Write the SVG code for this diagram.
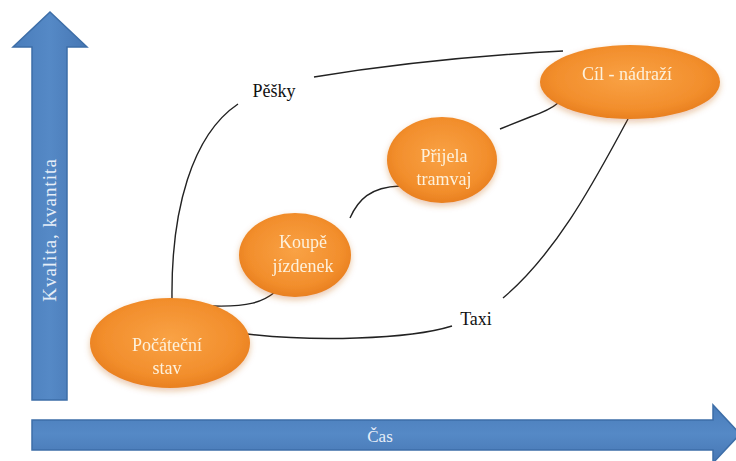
<svg xmlns="http://www.w3.org/2000/svg" width="736" height="461" viewBox="0 0 736 461">
  <defs>
    <linearGradient id="blueV" x1="0" y1="0" x2="1" y2="0">
      <stop offset="0" stop-color="#4a7dbb"/>
      <stop offset="0.5" stop-color="#5589c6"/>
      <stop offset="1" stop-color="#4676b3"/>
    </linearGradient>
    <linearGradient id="blueH" x1="0" y1="0" x2="0" y2="1">
      <stop offset="0" stop-color="#4a7dbb"/>
      <stop offset="0.5" stop-color="#5589c6"/>
      <stop offset="1" stop-color="#4676b3"/>
    </linearGradient>
    <radialGradient id="orange" cx="0.5" cy="0.45" r="0.6">
      <stop offset="0" stop-color="#f9a245"/>
      <stop offset="0.7" stop-color="#f28e2c"/>
      <stop offset="1" stop-color="#e57a1b"/>
    </radialGradient>
    <filter id="soft" x="-20%" y="-20%" width="140%" height="150%">
      <feGaussianBlur in="SourceAlpha" stdDeviation="3"/>
      <feOffset dy="3" result="b"/>
      <feFlood flood-color="#c0601a" flood-opacity="0.35"/>
      <feComposite in2="b" operator="in" result="sh"/>
      <feMerge>
        <feMergeNode in="sh"/>
        <feMergeNode in="SourceGraphic"/>
      </feMerge>
    </filter>
  </defs>
  <style>
    .axis { stroke: #3d6ea8; stroke-width: 1.5; }
    .axisText { font-family: "Liberation Serif", serif; font-size: 17px; fill: #e6eef8; }
    .vText { font-size: 19px; letter-spacing: 1px; }
    .node ellipse { fill: url(#orange); }
    .nodeText { font-family: "Liberation Serif", serif; font-size: 18px; fill: #fdf1dc; text-anchor: middle; }
    .conn path { fill: none; stroke: #222; stroke-width: 1.4; }
    .label { font-family: "Liberation Serif", serif; font-size: 18px; fill: #111; text-anchor: middle; }
  </style>
  <rect width="736" height="461" fill="#ffffff"/>

  <!-- vertical axis arrow -->
  <g id="axis-y">
    <path class="axis" fill="url(#blueV)" d="M32,400 L32,47 L13,47 L50,12 L87,47 L67,47 L67,400 Z"/>
    <text class="axisText vText" transform="translate(56,230) rotate(-90)" text-anchor="middle">Kvalita, kvantita</text>
  </g>

  <!-- horizontal axis arrow -->
  <g id="axis-x">
    <path class="axis" fill="url(#blueH)" d="M32,420 L713,420 L713,405 L740,434 L713,463 L713,450 L32,450 Z"/>
    <text class="axisText" x="380" y="442" text-anchor="middle">Čas</text>
  </g>

  <!-- connectors -->
  <g id="connectors" class="conn">
    <path d="M172,299 C171,210 192,135 238,104"/>
    <path d="M314,77 Q430,58 563,51"/>
    <path d="M213,306 C248,307 263,302 275,292"/>
    <path d="M350,218 C358,200 370,187 400,186"/>
    <path d="M500,129 L530,117 Q550,110 558,103"/>
    <path d="M247,334 Q300,340 357,338 Q420,336 452,326"/>
    <path d="M503,298 C560,250 600,170 628,119"/>
  </g>

  <!-- edge labels -->
  <g id="label-pesky"><text class="label" x="274" y="97">Pěšky</text></g>
  <g id="label-taxi"><text class="label" x="476" y="325">Taxi</text></g>

  <!-- nodes -->
  <g id="node-start" class="node" filter="url(#soft)">
    <ellipse cx="170" cy="343" rx="80" ry="45"/>
    <text class="nodeText" x="167" y="351">Počáteční</text>
    <text class="nodeText" x="167" y="374">stav</text>
  </g>
  <g id="node-tickets" class="node" filter="url(#soft)">
    <ellipse cx="295" cy="255" rx="56" ry="42"/>
    <text class="nodeText" x="303" y="248">Koupě</text>
    <text class="nodeText" x="303" y="272">jízdenek</text>
  </g>
  <g id="node-tram" class="node" filter="url(#soft)">
    <ellipse cx="442" cy="160" rx="55" ry="43"/>
    <text class="nodeText" x="444" y="162">Přijela</text>
    <text class="nodeText" x="444" y="185">tramvaj</text>
  </g>
  <g id="node-goal" class="node" filter="url(#soft)">
    <ellipse cx="630" cy="82" rx="90" ry="37"/>
    <text class="nodeText" x="627" y="80">Cíl - nádraží</text>
  </g>
</svg>
